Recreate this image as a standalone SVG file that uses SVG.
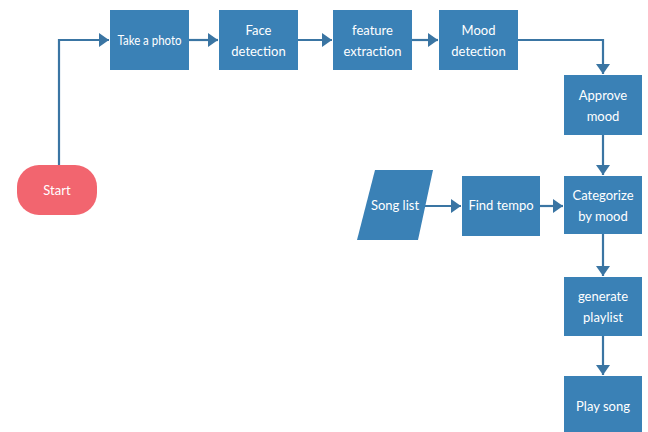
<svg xmlns="http://www.w3.org/2000/svg" width="648" height="432" viewBox="0 0 648 432">
<defs>
<style>
.box{fill:#3A81B6;}
.start{fill:#F2656F;}
.t{font-family:Lato,"Liberation Sans",sans-serif;font-size:13px;fill:#ffffff;text-anchor:middle;}
.c{fill:none;stroke:#3A75A3;stroke-width:2.2;}
</style>
<marker id="ah" viewBox="0 0 10 14" refX="10" refY="7" markerWidth="10" markerHeight="14" markerUnits="userSpaceOnUse" orient="auto">
<path d="M0,0 L10,7 L0,14 z" fill="#3A75A3"/>
</marker>
</defs>
<rect width="648" height="432" fill="#ffffff"/>
<g id="connectors">
<path class="c" d="M59,165 V40 H109" marker-end="url(#ah)"/>
<path class="c" d="M189,40 H218" marker-end="url(#ah)"/>
<path class="c" d="M298,40 H332" marker-end="url(#ah)"/>
<path class="c" d="M412,40 H438" marker-end="url(#ah)"/>
<path class="c" d="M518,40 H603 V74" marker-end="url(#ah)"/>
<path class="c" d="M603,135 V175" marker-end="url(#ah)"/>
<path class="c" d="M425,206 H461" marker-end="url(#ah)"/>
<path class="c" d="M540,206 H563" marker-end="url(#ah)"/>
<path class="c" d="M603,234 V276" marker-end="url(#ah)"/>
<path class="c" d="M603,336 V375" marker-end="url(#ah)"/>
</g>
<g id="start">
<rect class="start" x="17" y="165" width="80" height="50" rx="22"/>
<text class="t" x="57" y="195">Start</text>
</g>
<g id="take-photo">
<rect class="box" x="110" y="10" width="79" height="60"/>
<text class="t" x="149.5" y="45" textLength="64" lengthAdjust="spacingAndGlyphs">Take a photo</text>
</g>
<g id="face-detection">
<rect class="box" x="219" y="10" width="79" height="60"/>
<text class="t" x="258.5" y="35">Face</text>
<text class="t" x="258.5" y="56">detection</text>
</g>
<g id="feature-extraction">
<rect class="box" x="333" y="10" width="79" height="60"/>
<text class="t" x="372.5" y="35">feature</text>
<text class="t" x="372.5" y="56">extraction</text>
</g>
<g id="mood-detection">
<rect class="box" x="439" y="10" width="79" height="60"/>
<text class="t" x="478.5" y="35">Mood</text>
<text class="t" x="478.5" y="56">detection</text>
</g>
<g id="approve-mood">
<rect class="box" x="564" y="75" width="78" height="60"/>
<text class="t" x="603" y="100">Approve</text>
<text class="t" x="603" y="121">mood</text>
</g>
<g id="song-list">
<polygon class="box" points="375,170 433,170 418,240 357,240"/>
<text class="t" x="395" y="210">Song list</text>
</g>
<g id="find-tempo">
<rect class="box" x="462" y="176" width="78" height="60"/>
<text class="t" x="501" y="210">Find tempo</text>
</g>
<g id="categorize">
<rect class="box" x="564" y="176" width="78" height="58"/>
<text class="t" x="603" y="200">Categorize</text>
<text class="t" x="603" y="221">by mood</text>
</g>
<g id="generate-playlist">
<rect class="box" x="564" y="277" width="78" height="59"/>
<text class="t" x="603" y="301">generate</text>
<text class="t" x="603" y="322">playlist</text>
</g>
<g id="play-song">
<rect class="box" x="564" y="376" width="78" height="60"/>
<text class="t" x="603" y="411">Play song</text>
</g>
</svg>
